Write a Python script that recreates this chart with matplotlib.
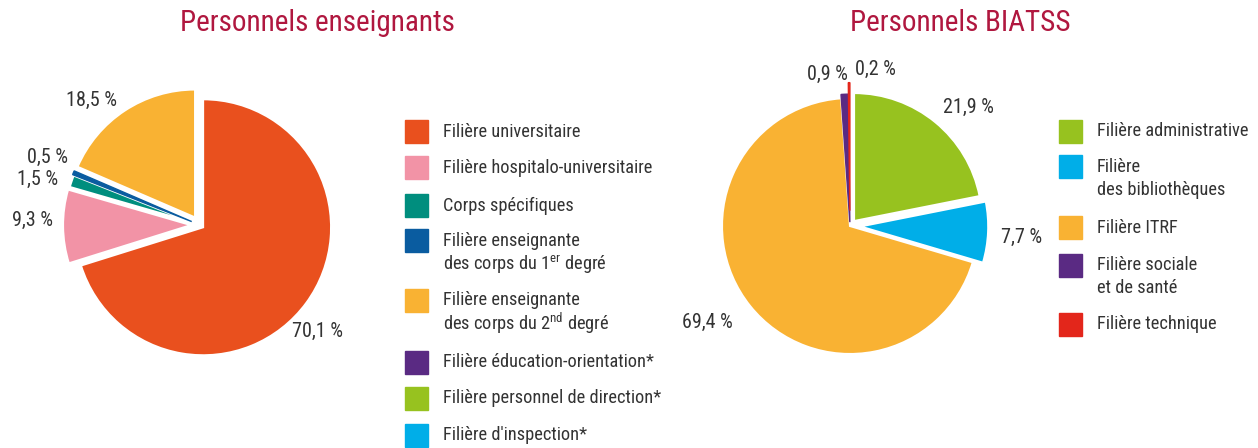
import matplotlib.pyplot as plt
import numpy as np
from matplotlib import font_manager
from matplotlib.patches import Rectangle

# police étroite si disponible
installed = {f.name for f in font_manager.fontManager.ttflist}
font = 'Roboto'
for name in ['Roboto Condensed', 'Liberation Sans Narrow', 'Roboto']:
    if name in installed:
        font = name
        break
plt.rcParams['font.family'] = [font, 'DejaVu Sans']

W, H = 1258, 448
TXT = '#333333'
TITLE = '#B0173F'

# --- Personnels enseignants ---
ens_labels = ['Filière universitaire', 'Filière hospitalo-universitaire', 'Corps spécifiques',
              'Filière enseignante\ndes corps du 1$^{\\mathregular{er}}$ degré',
              'Filière enseignante\ndes corps du 2$^{\\mathregular{nd}}$ degré',
              'Filière éducation-orientation*', 'Filière personnel de direction*',
              "Filière d'inspection*"]
ens_values = [70.1, 9.3, 1.5, 0.5, 18.5, 0.0, 0.0, 0.0]
ens_colors = ['#E9501E', '#F293A6', '#008E7E', '#0A5CA0', '#F9B233', '#5A2A83', '#97C21F', '#00AEE8']
ens_explode = [0.03, 0.07, 0.06, 0.07, 0.07, 0, 0, 0]
# position des étiquettes (angle en degrés, distance au centre en rayons)
ens_lab_pos = [(-42, 1.24), (178.6, 1.31), (164.3, 1.32), (156.2, 1.30), (131, 1.29)]

# --- Personnels BIATSS ---
bia_labels = ['Filière administrative', 'Filière\ndes bibliothèques', 'Filière ITRF',
              'Filière sociale\net de santé', 'Filière technique']
bia_values = [21.9, 7.7, 69.4, 0.9, 0.2]
bia_colors = ['#97C21F', '#00AEE8', '#F9B233', '#5A2A83', '#E3261B']
bia_explode = [0.05, 0.08, 0, 0.03, 0.12]
bia_lab_pos = [(45, 1.31), (-3.7, 1.34), (214, 1.34), (98.3, 1.20), (80.8, 1.24)]

fig = plt.figure(figsize=(W / 100, H / 100), dpi=100)


def pie_axes(cx, cy, r, half=160):
    ax = fig.add_axes([(cx - half) / W, (H - cy - half) / H, 2 * half / W, 2 * half / H])
    lim = half / r
    ax.set_xlim(-lim, lim)
    ax.set_ylim(-lim, lim)
    ax.set_aspect('equal')
    ax.axis('off')
    return ax


def draw_pie(ax, values, colors, explode, lab_pos):
    vals = [v for v in values if v > 0]
    wedges, _ = ax.pie(vals, colors=colors[:len(vals)], explode=explode[:len(vals)],
                       startangle=90, counterclock=False,
                       wedgeprops=dict(edgecolor='white', linewidth=1.5))
    for w, v in zip(wedges, vals):
        # les très petites parts gardent un liseré de leur couleur
        if v < 1:
            w.set_edgecolor(w.get_facecolor())
            w.set_linewidth(1.0)
    for v, (ang, d) in zip(vals, lab_pos):
        t = np.deg2rad(ang)
        ax.text(d * np.cos(t), d * np.sin(t), f'{v:.1f} %'.replace('.', ','),
                ha='center', va='center', fontsize=14.5, color=TXT)


def draw_legend(labels, colors, x, rows):
    for lab, col, y in zip(labels, colors, rows):
        fig.patches.append(Rectangle((x / W, 1 - (y + 11.5) / H), 23 / W, 23 / H,
                                     transform=fig.transFigure, color=col))
        fig.text((x + 38) / W, 1 - y / H, lab.split('\n')[0], ha='left', va='center',
                 fontsize=13.2, color=TXT)
        if '\n' in lab:
            fig.text((x + 38) / W, 1 - (y + 23) / H, lab.split('\n')[1], ha='left',
                     va='center', fontsize=13.2, color=TXT)


ax1 = pie_axes(200, 225, 128)
draw_pie(ax1, ens_values, ens_colors, ens_explode, ens_lab_pos)
ax2 = pie_axes(850, 226, 128)
draw_pie(ax2, bia_values, bia_colors, bia_explode, bia_lab_pos)

draw_legend(ens_labels, ens_colors, 405, [132, 168, 206, 241, 300, 362, 398, 435])
draw_legend(bia_labels, bia_colors, 1059, [131, 167, 228, 265, 324])

fig.text(317 / W, 1 - 23 / H, 'Personnels enseignants', ha='center', va='center',
         fontsize=21, color=TITLE)
fig.text(960 / W, 1 - 23 / H, 'Personnels BIATSS', ha='center', va='center',
         fontsize=21, color=TITLE)

fig.savefig('out.png', dpi=100)
